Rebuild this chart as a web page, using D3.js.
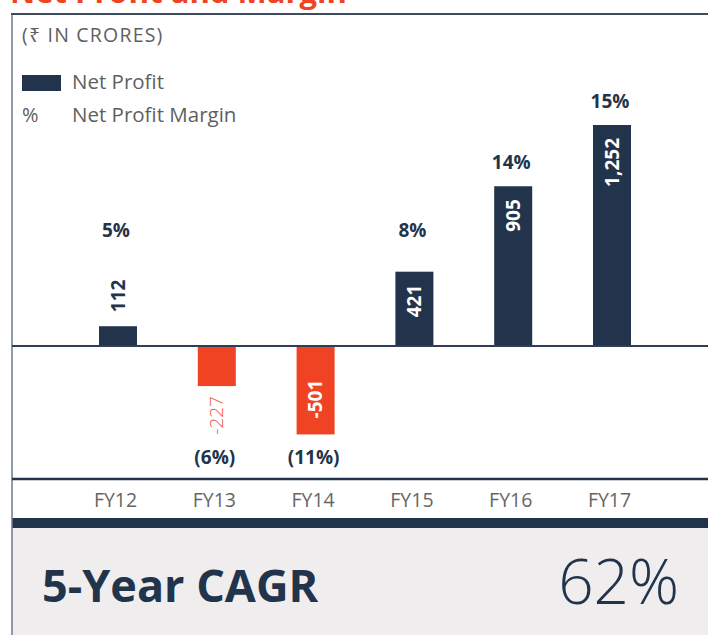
<!DOCTYPE html>
<html>
<head>
<meta charset="utf-8">
<script src="https://cdn.jsdelivr.net/npm/d3@7"></script>
<style>
    body { margin: 0; background: #fff; }
    svg { display: block; font-family: "Open Sans", "Noto Sans", sans-serif; }
</style>
</head>
<body>
<div id="chart"></div>
<script>
// data
const years = ["FY12", "FY13", "FY14", "FY15", "FY16", "FY17"];
const netProfit = [112, -227, -501, 421, 905, 1252];
const margin = [5, -6, -11, 8, 14, 15];
const cagr = "62%";

const navy = "#22344b";
const red = "#f04323";
const grey = "#5f5f5f";

var width = 708, height = 635;
var svg = d3.select("#chart").append("svg")
    .attr("width", width)
    .attr("height", height);

let rows = years.map((d, i) => ({ year: d, value: netProfit[i], pct: margin[i] }));

// scales
var x = d3.scalePoint().domain(years).range([118, 612]);
var y = d3.scaleLinear().domain([0, 1252]).range([346, 125]);
var barW = 38;

// title, cut off at the top of the crop
svg.append("text")
    .attr("x", 10).attr("y", 3)
    .attr("fill", red)
    .style("font-size", "31px").style("font-weight", 700)
    .text("Net Profit and Margin");

// bottom grey panel
svg.append("rect")
    .attr("x", 12).attr("y", 527).attr("width", width - 12).attr("height", height - 527)
    .attr("fill", "#efeded");
svg.append("rect")
    .attr("x", 12).attr("y", 518).attr("width", width - 12).attr("height", 10)
    .attr("fill", navy);

// frame
svg.append("line").attr("x1", 12).attr("x2", 12).attr("y1", 13).attr("y2", height)
    .attr("stroke", "#6d7888").attr("stroke-width", 1.5);
svg.append("line").attr("x1", 11).attr("x2", width).attr("y1", 14).attr("y2", 14)
    .attr("stroke", "#3d4b5e").attr("stroke-width", 2);
svg.append("line").attr("x1", 12).attr("x2", width).attr("y1", 479).attr("y2", 479)
    .attr("stroke", navy).attr("stroke-width", 2.5);

// unit + legend
svg.append("text").attr("x", 22).attr("y", 42)
    .attr("fill", grey).style("font-size", "19.5px").style("letter-spacing", "1.2px")
    .text("(₹ IN CRORES)");
svg.append("rect").attr("x", 22).attr("y", 75).attr("width", 39).attr("height", 16)
    .attr("fill", navy);
svg.append("text").attr("x", 72).attr("y", 89)
    .attr("fill", grey).style("font-size", "20.5px")
    .text("Net Profit");
svg.append("text").attr("x", 22).attr("y", 122)
    .attr("fill", grey).style("font-size", "20px")
    .text("%");
svg.append("text").attr("x", 72).attr("y", 122)
    .attr("fill", grey).style("font-size", "20.5px")
    .text("Net Profit Margin");

// bars
svg.selectAll("rect.bar")
    .data(rows)
    .enter()
    .append("rect")
    .attr("class", "bar")
    .attr("x", d => x(d.year) - barW / 2)
    .attr("y", d => Math.min(y(d.value), y(0)))
    .attr("width", barW)
    .attr("height", d => Math.abs(y(d.value) - y(0)))
    .attr("fill", d => d.value < 0 ? red : navy);

// zero line
svg.append("line").attr("x1", 12).attr("x2", width).attr("y1", y(0)).attr("y2", y(0))
    .attr("stroke", "#2f3e53").attr("stroke-width", 2);

// value labels, rotated; inside the bar when it is long enough
let fmt = d3.formatLocale({ decimal: ".", thousands: ",", grouping: [3], currency: ["", ""], minus: "-" }).format(",");
let inside = d => Math.abs(y(d.value) - y(0)) > (d.value >= 0 ? 40 : 60);
svg.selectAll("text.val")
    .data(rows)
    .enter()
    .append("text")
    .attr("class", "val")
    .attr("transform", function (d) {
        let py;
        if (d.value >= 0) {
            py = inside(d) ? y(d.value) + 13 : y(d.value) - 14;
        } else {
            py = inside(d) ? y(d.value) - 16 : y(d.value) + 10;
        }
        return "translate(" + x(d.year) + "," + py + ") rotate(-90)";
    })
    .attr("dy", "0.35em")
    .attr("text-anchor", function (d) {
        if (d.value >= 0) return inside(d) ? "end" : "start";
        return inside(d) ? "start" : "end";
    })
    .attr("fill", function (d) {
        if (inside(d)) return "#fff";
        return d.value >= 0 ? navy : "#f2583b";
    })
    .style("font-size", "19px")
    .style("font-weight", d => (d.value < 0 && !inside(d)) ? 300 : 700)
    .text(d => fmt(d.value));

// margin labels
svg.selectAll("text.pct")
    .data(rows)
    .enter()
    .append("text")
    .attr("class", "pct")
    .attr("x", d => x(d.year) - 2)
    .attr("y", d => d.value >= 0 ? Math.min(y(d.value) - 17, 237) : 464)
    .attr("text-anchor", "middle")
    .attr("fill", navy)
    .style("font-size", "19px")
    .style("font-weight", 700)
    .text(d => d.pct < 0 ? "(" + Math.abs(d.pct) + "%)" : d.pct + "%");

// category axis
var axis = d3.axisBottom(x).tickSize(0).tickPadding(0);
var gAxis = svg.append("g")
    .attr("transform", "translate(-3,500)")
    .call(axis);
gAxis.select(".domain").remove();
gAxis.selectAll("text")
    .attr("dy", "0.35em")
    .attr("fill", "#666")
    .style("font-family", "'Open Sans', sans-serif")
    .style("font-size", "19.5px");

// CAGR
svg.append("text").attr("x", 42).attr("y", 602)
    .attr("fill", navy)
    .style("font-size", "45px").style("font-weight", 700)
    .text("5-Year CAGR");
svg.append("text").attr("x", 679).attr("y", 604)
    .attr("text-anchor", "end")
    .attr("fill", navy)
    .style("font-size", "62px").style("font-weight", 300)
    .text(cagr);
</script>
</body>
</html>
